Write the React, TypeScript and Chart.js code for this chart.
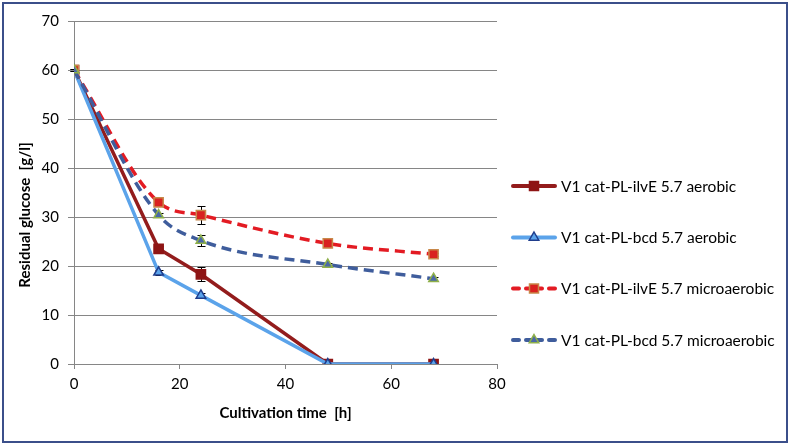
import React, { useEffect, useRef } from 'react';
import { Chart, registerables } from 'chart.js';

Chart.register(...registerables);

const hours = [0, 16, 24, 48, 68];
const ilvEAerobic = [60, 23.5, 18.3, 0, 0];
const bcdAerobic = [60, 18.7, 14.0, 0, 0];
const ilvEMicro = [60, 33.0, 30.4, 24.6, 22.4];
const bcdMicro = [60, 30.4, 25.2, 20.3, 17.4];

const ilvEAerobicErr = [0, 0.5, 1.4, 0, 0];
const bcdAerobicErr = [0, 0.5, 0.4, 0, 0];
const ilvEMicroErr = [0.3, 0.6, 1.8, 0.3, 0.3];
const bcdMicroErr = [0.3, 0.5, 1.1, 0.3, 0.4];

const seriesNames = [
  'V1 cat-PL-ilvE 5.7 aerobic',
  'V1 cat-PL-bcd 5.7 aerobic',
  'V1 cat-PL-ilvE 5.7 microaerobic',
  'V1 cat-PL-bcd 5.7 microaerobic',
];

const xTitle = 'Cultivation time  [h]';
const yTitle = 'Residual glucose  [g/l]';

const FONT = 'Lato';

const styles = [
  { line: '#931c1c', dash: [] as number[], point: 'rect', fill: '#8e1515', border: '#8e1515', radius: 6.5, smooth: false },
  { line: '#5ba3ea', dash: [] as number[], point: 'triangle', fill: '#5ba3ea', border: '#1f3d8c', radius: 5.5, smooth: false },
  { line: '#e31b23', dash: [10, 6], point: 'rect', fill: '#d9211f', border: '#c8884a', radius: 6.5, smooth: true },
  { line: '#3f5d9c', dash: [10, 6], point: 'triangle', fill: '#4a68a8', border: '#8fb04a', radius: 5.5, smooth: true },
];

const seriesValues = [ilvEAerobic, bcdAerobic, ilvEMicro, bcdMicro];
const seriesErrors = [ilvEAerobicErr, bcdAerobicErr, ilvEMicroErr, bcdMicroErr];

const errorBarPlugin = {
  id: 'errorBars',
  beforeDatasetsDraw(chart: any) {
    const ctx = chart.ctx;
    const xs = chart.scales.x;
    const ys = chart.scales.y;
    ctx.save();
    ctx.strokeStyle = '#000000';
    ctx.lineWidth = 1;
    seriesValues.forEach((vals, si) => {
      vals.forEach((v, i) => {
        const e = seriesErrors[si][i];
        if (!e) return;
        const x = Math.round(xs.getPixelForValue(hours[i])) + 0.5;
        const yTop = Math.round(ys.getPixelForValue(v + e)) + 0.5;
        const yBot = Math.round(ys.getPixelForValue(Math.max(0, v - e))) + 0.5;
        ctx.beginPath();
        ctx.moveTo(x, yTop);
        ctx.lineTo(x, yBot);
        ctx.moveTo(x - 4, yTop);
        ctx.lineTo(x + 4, yTop);
        ctx.moveTo(x - 4, yBot);
        ctx.lineTo(x + 4, yBot);
        ctx.stroke();
      });
    });
    ctx.restore();
  },
};

const legendYs = [186, 237.5, 288.5, 340];

const decorPlugin = {
  id: 'decor',
  afterDraw(chart: any) {
    const ctx = chart.ctx;
    ctx.save();
    // legend
    seriesNames.forEach((name, i) => {
      const st = styles[i];
      const y = legendYs[i];
      ctx.strokeStyle = st.line;
      ctx.lineWidth = 4;
      ctx.lineCap = 'round';
      if (st.dash.length) {
        ctx.beginPath();
        ctx.moveTo(513, y);
        ctx.lineTo(519, y);
        ctx.moveTo(549, y);
        ctx.lineTo(555, y);
        ctx.stroke();
        ctx.beginPath();
        ctx.moveTo(526, y);
        ctx.lineTo(542, y);
        ctx.stroke();
      } else {
        ctx.beginPath();
        ctx.moveTo(513, y);
        ctx.lineTo(555, y);
        ctx.stroke();
      }
      ctx.lineCap = 'butt';
      ctx.lineWidth = 1.5;
      ctx.fillStyle = st.fill;
      ctx.strokeStyle = st.border;
      const cx = 534;
      if (st.point === 'rect') {
        ctx.beginPath();
        ctx.rect(cx - 4.5, y - 4.5, 9, 9);
        ctx.fill();
        ctx.stroke();
      } else {
        const r = st.radius;
        ctx.beginPath();
        ctx.moveTo(cx, y - r);
        ctx.lineTo(cx + r * 0.866, y + r * 0.5);
        ctx.lineTo(cx - r * 0.866, y + r * 0.5);
        ctx.closePath();
        ctx.fill();
        ctx.stroke();
      }
      ctx.fillStyle = '#000000';
      ctx.font = `15.5px ${FONT}`;
      ctx.textAlign = 'left';
      ctx.textBaseline = 'middle';
      ctx.fillText(name, 561, y + 0.5);
    });
    // y title
    ctx.save();
    ctx.translate(25, 215);
    ctx.rotate(-Math.PI / 2);
    ctx.font = `bold 15px ${FONT}`;
    ctx.textAlign = 'center';
    ctx.textBaseline = 'middle';
    ctx.fillStyle = '#000000';
    ctx.fillText(yTitle, 0, 0);
    ctx.restore();
    // outer border
    ctx.strokeStyle = '#3b4f8a';
    ctx.lineWidth = 2;
    ctx.strokeRect(3, 3, 784, 439);
    ctx.restore();
  },
};

export default function App() {
  const ref = useRef<HTMLCanvasElement | null>(null);

  useEffect(() => {
    document.body.style.margin = '0';
    const canvas = ref.current;
    if (!canvas) return;
    const datasets = seriesValues.map((vals, i) => {
      const st = styles[i];
      return {
        label: seriesNames[i],
        data: vals.map((v, j) => ({ x: hours[j], y: v })),
        borderColor: st.line,
        backgroundColor: st.fill,
        borderWidth: 3.5,
        borderDash: st.dash,
        pointStyle: st.point,
        pointRadius: st.radius,
        pointBackgroundColor: st.fill,
        pointBorderColor: st.border,
        pointBorderWidth: 1.5,
        tension: st.smooth ? 0.3 : 0,
        cubicInterpolationMode: st.smooth ? 'monotone' : 'default',
        order: 4 - i,
        fill: false,
      };
    });
    const chart = new Chart(canvas, {
      type: 'line',
      data: { datasets } as any,
      options: {
        responsive: false,
        animation: false,
        layout: { padding: { left: 0, right: 294, top: 21, bottom: 0 } },
        plugins: {
          legend: { display: false },
          tooltip: { enabled: false },
        },
        scales: {
          x: {
            type: 'linear',
            min: 0,
            max: 80,
            ticks: { stepSize: 20, color: '#000000', font: { family: FONT, size: 15 }, padding: 6, maxRotation: 0 },
            grid: { drawOnChartArea: false, drawTicks: true, tickLength: 5, color: '#868686', lineWidth: 1 },
            border: { color: '#868686', width: 1 },
            title: { display: true, text: xTitle, color: '#000000', font: { family: FONT, size: 15, weight: 'bold' }, padding: { top: 0, bottom: 24 } },
            afterFit: (s: any) => { s.height = 82; },
          },
          y: {
            type: 'linear',
            min: 0,
            max: 70,
            ticks: { stepSize: 10, color: '#000000', font: { family: FONT, size: 15 }, padding: 9 },
            grid: { color: '#868686', lineWidth: 1, tickLength: 6 },
            border: { color: '#868686', width: 1 },
            afterFit: (s: any) => { s.width = 74; },
          },
        },
      } as any,
      plugins: [errorBarPlugin, decorPlugin],
    });
    return () => chart.destroy();
  }, []);

  return <canvas ref={ref} width={791} height={446} style={{ display: 'block' }} />;
}
